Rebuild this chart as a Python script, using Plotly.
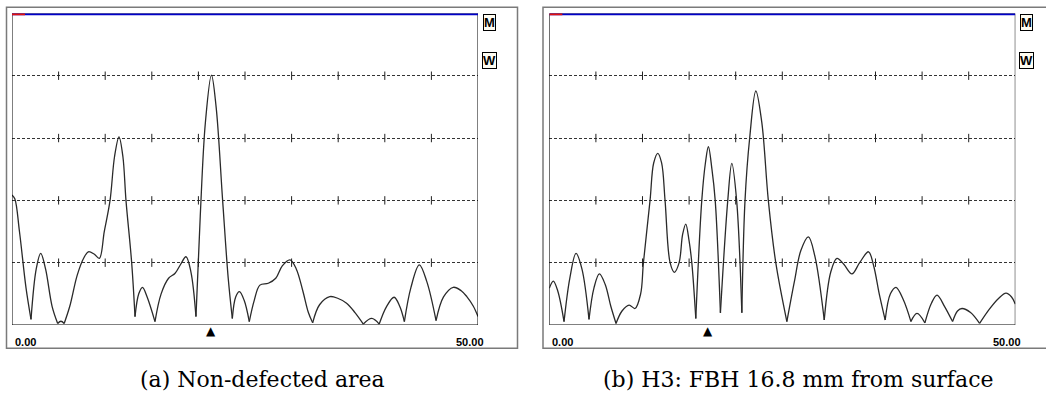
import plotly.graph_objects as go

W, H = 1046, 406

# ---- data (x: 0..50 range units, y: 0..100 % screen height) ----
left_x = [0.0, 0.3, 0.8, 1.5, 2.04, 2.6, 3.08, 3.6, 4.3, 4.9, 5.25, 5.6, 6.2, 7.0, 7.7, 8.2, 8.8, 9.37,
          9.9, 10.52, 11.0, 11.48, 11.9, 12.23, 12.84, 13.2, 13.6, 14.0, 14.5, 15.34, 16.0, 16.8, 17.5,
          18.1, 18.67, 19.2, 19.74, 20.2, 20.75, 21.4, 21.9, 22.6, 23.2, 23.64, 24.0, 24.4, 24.9, 25.46,
          26.0, 26.6, 27.5, 28.3, 29.0, 29.83, 30.5, 31.2, 31.8, 32.26, 33.0, 34.1, 35.0, 35.9, 36.8,
          37.7, 38.6, 39.4, 40.2, 41.0, 41.6, 42.1, 42.8, 43.7, 44.5, 45.5, 46.3, 47.35, 48.2, 48.8,
          49.5, 50.0]
left_y = [41.7, 40.5, 30, 12, 1.8, 18, 23, 18, 6, 0.5, 1.2, 0.5, 6, 16, 21.5, 23.5, 22.8, 21.4,
          30, 40, 54, 60.4, 54, 40, 20, 2.7, 10, 12.1, 9, 1.1, 10, 15, 16.6,
          19.5, 21.9, 17, 2.7, 35, 65, 80.2, 70, 40, 15, 2.1, 9, 10.7, 8, 1.1,
          8, 12.8, 13.4, 15, 19, 20.9, 18, 11, 4, 0.7, 6.5, 9.1, 8.5, 7, 4,
          0.3, 2.1, 0.3, 6, 8.9, 6, 1.1, 12, 19.3, 14, 1.4, 9, 12.1, 11, 9.1,
          6, 2.7]

right_x = [0.0, 0.43, 0.9, 1.58, 2.2, 2.87, 3.5, 4.26, 4.8, 5.37, 6.0, 6.6, 7.16, 7.8, 8.56, 9.2,
           9.8, 10.1, 10.81, 11.2, 11.64, 12.05, 12.42, 12.96, 13.42, 13.93, 14.3, 14.64, 15.0, 15.29,
           15.72, 16.36, 16.75, 17.07, 17.45, 17.8, 18.36, 19.15, 19.58, 20.1, 20.66, 21.0, 21.5,
           22.16, 22.8, 23.5, 24.3, 25.49, 26.3, 27.0, 27.8, 28.5, 29.5, 30.2, 30.86, 31.6, 32.47,
           33.3, 34.25, 34.8, 35.4, 36.04, 36.6, 37.2, 38.0, 38.8, 39.45, 40.3, 41.0, 41.6, 42.4,
           43.27, 43.8, 44.28, 45.2, 46.17, 47.2, 48.2, 49.0, 49.6, 50.0]
right_y = [11.8, 14.1, 11, 1.1, 15, 23, 18, 1.8, 12, 16.4, 13, 6, 0.5, 4.5, 6.4, 5.3,
           10, 20, 40, 52, 55.1, 52, 40, 20, 16.9, 20, 29, 32.4, 27, 20,
           2.1, 40, 52, 57.2, 50, 40, 3.9, 40, 51.9, 40, 3.9, 40, 60,
           75.1, 65, 40, 20, 1.1, 14, 24, 28.3, 22, 1.6, 17, 21.4, 19.5, 16.4,
           20, 23.5, 19, 10, 1.6, 10, 12.1, 8, 1.1, 3.7, 0.7, 7, 9.6, 6,
           1.1, 4.5, 5.3, 4, 0.5, 5, 8.5, 10.2, 9, 6.7]

grid_levels = [20, 40, 60, 80]
tick_positions = [5, 10, 15, 20, 25, 30, 35, 40, 45]
x_range = [0, 50]
y_range = [0, 100]
gate_left = 21.4
gate_right = 17.07
red_start_len = 1.4
range_labels = ["0.00", "50.00"]
captions = ["(a) Non-defected area", "(b) H3: FBH 16.8 mm from surface"]

# ---- layout geometry (pixels) ----
def px(v):
    return v / W

def py(v):
    return (H - v) / H

panels = [
    dict(xa="x", ya="y", xdom=[px(12), px(478)], xs=left_x, ys=left_y, gate=gate_left,
         frame=[6.5, 517.5], caption_x=262, mw_x=489),
    dict(xa="x2", ya="y2", xdom=[px(549.3), px(1015.3)], xs=right_x, ys=right_y, gate=gate_right,
         frame=[543, 1050], caption_x=798, mw_x=1026),
]
ydom = [py(325), py(13.4)]

fig = go.Figure()


def lobes(xs, ys):
    idx = [0] + [i for i in range(1, len(ys) - 1)
                 if ys[i] < ys[i - 1] and ys[i] < ys[i + 1] and ys[i] < 5] + [len(ys) - 1]
    return [(xs[a:b + 1], ys[a:b + 1]) for a, b in zip(idx[:-1], idx[1:])]


shapes = []
annotations = []
for k, p in enumerate(panels):
    xa, ya = p["xa"], p["ya"]
    for lx, ly in lobes(p["xs"], p["ys"]):
        fig.add_trace(go.Scatter(x=lx, y=ly, mode="lines", xaxis=xa, yaxis=ya,
                                 line=dict(color="#2a2a2a", width=1.3, shape="spline", smoothing=1.0),
                                 hoverinfo="skip", showlegend=False))
    # tick crosses on grid lines
    tx = [t for g in grid_levels for t in tick_positions]
    ty = [g for g in grid_levels for t in tick_positions]
    fig.add_trace(go.Scatter(x=tx, y=ty, mode="markers", xaxis=xa, yaxis=ya,
                             marker=dict(symbol="line-ns", size=6, line=dict(color="#222", width=1)),
                             hoverinfo="skip", showlegend=False))

    xref, yref = xa, ya
    # gate triangle
    annotations.append(dict(xref=xref, yref="paper", x=p["gate"], y=py(331), text="▲",
                            xanchor="center", yanchor="middle", showarrow=False,
                            font=dict(family="DejaVu Sans", size=12, color="black")))
    # plot box
    shapes.append(dict(type="rect", xref=xref, yref=yref, x0=x_range[0], x1=x_range[1],
                       y0=y_range[0], y1=y_range[1], line=dict(color="black", width=1), layer="above"))
    # top bar (blue with red start)
    shapes.append(dict(type="line", xref=xref, yref=yref, x0=x_range[0], x1=x_range[1],
                       y0=y_range[1], y1=y_range[1], line=dict(color="#0000c8", width=3.5), layer="above"))
    shapes.append(dict(type="line", xref=xref, yref=yref, x0=x_range[0], x1=x_range[0] + red_start_len,
                       y0=y_range[1], y1=y_range[1], line=dict(color="#e01010", width=3.5), layer="above"))
    # outer gray frame
    shapes.append(dict(type="rect", xref="paper", yref="paper", x0=px(p["frame"][0]), x1=px(p["frame"][1]),
                       y0=py(348.3), y1=py(7.3), line=dict(color="#7a7a7a", width=1.5)))
    # range labels
    annotations.append(dict(xref=xref, yref="paper", x=x_range[0], y=py(342), text="<b>%s</b>" % range_labels[0],
                            xanchor="left", yanchor="middle", showarrow=False, xshift=1,
                            font=dict(family="Liberation Sans, Arial", size=11, color="black")))
    annotations.append(dict(xref=xref, yref="paper", x=x_range[1], y=py(342), text="<b>%s</b>" % range_labels[1],
                            xanchor="right", yanchor="middle", showarrow=False, xshift=8,
                            font=dict(family="Liberation Sans, Arial", size=11, color="black")))
    # M / W boxes
    for lab, yy in (("M", 22), ("W", 60)):
        annotations.append(dict(xref="paper", yref="paper", x=px(p["mw_x"]), y=py(yy), text="<b>%s</b>" % lab,
                                xanchor="center", yanchor="middle", showarrow=False,
                                bordercolor="black", borderwidth=1, borderpad=0, bgcolor="#fffdf2",
                                font=dict(family="Liberation Sans, Arial", size=13, color="black")))
    # caption
    annotations.append(dict(xref="paper", yref="paper", x=px(p["caption_x"]), y=py(379), text=captions[k],
                            xanchor="center", yanchor="middle", showarrow=False,
                            font=dict(family="DejaVu Serif", size=22, color="black")))

axis_common = dict(showticklabels=False, ticks="", zeroline=False, showline=False, fixedrange=True)
fig.update_layout(
    width=W, height=H, margin=dict(l=0, r=0, t=0, b=0),
    paper_bgcolor="white", plot_bgcolor="white",
    shapes=shapes, annotations=annotations, showlegend=False,
    xaxis=dict(domain=panels[0]["xdom"], range=x_range, anchor="y", showgrid=False, **axis_common),
    yaxis=dict(domain=ydom, range=y_range, anchor="x", showgrid=True, tickvals=grid_levels,
               gridcolor="#333", gridwidth=1, griddash="3px,2px", **axis_common),
    xaxis2=dict(domain=panels[1]["xdom"], range=x_range, anchor="y2", showgrid=False, **axis_common),
    yaxis2=dict(domain=ydom, range=y_range, anchor="x2", showgrid=True, tickvals=grid_levels,
                gridcolor="#333", gridwidth=1, griddash="3px,2px", **axis_common),
)

fig.write_html("out.html")
